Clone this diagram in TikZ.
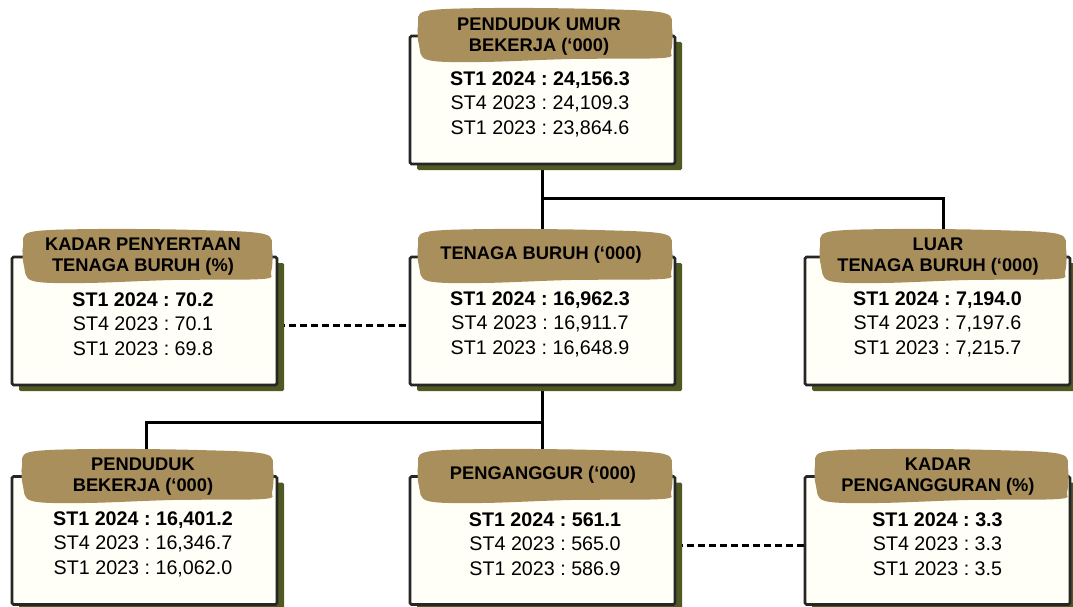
\documentclass[tikz,border=0pt]{standalone}
\usepackage{fontspec}
\setmainfont{Liberation Sans}
\usetikzlibrary{shadows,backgrounds}
\definecolor{hdrtan}{HTML}{A98F5C}
\definecolor{olivesh}{HTML}{4F5A23}
\definecolor{cream}{HTML}{FFFEF7}
\frenchspacing
\tikzset{
  box/.style={draw=black!85, line width=2.6pt, fill=cream, rounded corners=1.5pt,
    minimum width=265pt, minimum height=128pt, inner sep=0pt,
    drop shadow={opacity=1, fill=olivesh, shadow xshift=7pt, shadow yshift=-6pt}},
  conn/.style={line width=3pt, black},
  dashconn/.style={line width=3pt, black, dash pattern=on 7pt off 4pt},
  hdr/.style={fill=hdrtan},
  htext/.style={font=\bfseries\fontsize{18.3}{21}\selectfont, align=center, inner sep=0pt, text=black},
  vtext/.style={font=\fontsize{19.7}{24.5}\selectfont, align=center, inner sep=0pt, text=black}
}
\newcommand{\hdrblob}[4]{%
  \begin{scope}[shift={(#1,#2)}]
    \fill[hdr] plot[smooth cycle, tension=0.55] coordinates {(8,4) ({0.3*#3},1) ({0.7*#3},2) ({#3-8},6) (#3,21) ({#3-1},{#4-11}) ({#3-10},{#4-4}) ({0.6*#3},{#4-3}) ({0.25*#3},#4) (10,{#4-2}) (1,{#4-17}) (0,18)};
  \end{scope}}
\begin{document}
\begin{tikzpicture}[x=1pt,y=-1pt]
\useasboundingbox (0,0) rectangle (1073,607);
% boxes
\node[box] (tb) at (542.5,100) {};
\node[box] (lb) at (144.5,321) {};
\node[box] (mb) at (542.5,321) {};
\node[box] (rb) at (937.5,321) {};
\node[box] (blb) at (144.5,540.5) {};
\node[box] (bcb) at (542.5,540.5) {};
\node[box] (brb) at (937.5,540.5) {};
% header blobs
\hdrblob{418}{7}{254}{55}
\hdrblob{23}{228}{249}{55}
\hdrblob{418}{228}{254}{55}
\hdrblob{820}{228}{246}{55}
\hdrblob{22}{448}{251}{55}
\hdrblob{418}{448}{254}{55}
\hdrblob{815}{448}{253}{55}
% header texts
\node[htext] (ht) at (539,37) {PENDUDUK UMUR\\BEKERJA (‘000)};
\node[htext] (hl) at (143,257) {KADAR PENYERTAAN\\TENAGA BURUH (\%)};
\node[htext] (hm) at (541,255) {TENAGA BURUH (‘000)};
\node[htext] (hr) at (938,257) {LUAR\\TENAGA BURUH (‘000)};
\node[htext] (hbl) at (143,477) {PENDUDUK\\BEKERJA (‘000)};
\node[htext] (hbc) at (543,475) {PENGANGGUR (‘000)};
\node[htext] (hbr) at (938,477) {KADAR\\PENGANGGURAN (\%)};
% values
\node[vtext] (vt) at (540,104) {\textbf{ST1 2024 : 24,156.3}\\ST4 2023 : 24,109.3\\ST1 2023 : 23,864.6};
\node[vtext] (vl) at (143,324) {\textbf{ST1 2024 : 70.2}\\ST4 2023 : 70.1\\ST1 2023 : 69.8};
\node[vtext] (vm) at (540,324) {\textbf{ST1 2024 : 16,962.3}\\ST4 2023 : 16,911.7\\ST1 2023 : 16,648.9};
\node[vtext] (vr) at (937.5,324) {\textbf{ST1 2024 : 7,194.0}\\ST4 2023 : 7,197.6\\ST1 2023 : 7,215.7};
\node[vtext] (vbl) at (143,544) {\textbf{ST1 2024 : 16,401.2}\\ST4 2023 : 16,346.7\\ST1 2023 : 16,062.0};
\node[vtext] (vbc) at (545,544) {\textbf{ST1 2024 : 561.1}\\ST4 2023 : 565.0\\ST1 2023 : 586.9};
\node[vtext] (vbr) at (937.5,544) {\textbf{ST1 2024 : 3.3}\\ST4 2023 : 3.3\\ST1 2023 : 3.5};
% connectors
\coordinate (j1) at (543,198);
\coordinate (j2) at (543,422);
\begin{pgfonlayer}{background}
\draw[conn] (tb.south) -- (mb.north);
\draw[conn] (tb.south |- j1) -| ([xshift=6pt]rb.north);
\draw[conn] (mb.south) -- (bcb.north);
\draw[conn] (mb.south |- j2) -| ([xshift=1.5pt]blb.north);
\draw[dashconn] ([yshift=-4pt]lb.east) -- ([yshift=-4pt]mb.west);
\draw[dashconn] ([yshift=-4.5pt]bcb.east) -- ([yshift=-4.5pt]brb.west);
\end{pgfonlayer}
\end{tikzpicture}
\end{document}
